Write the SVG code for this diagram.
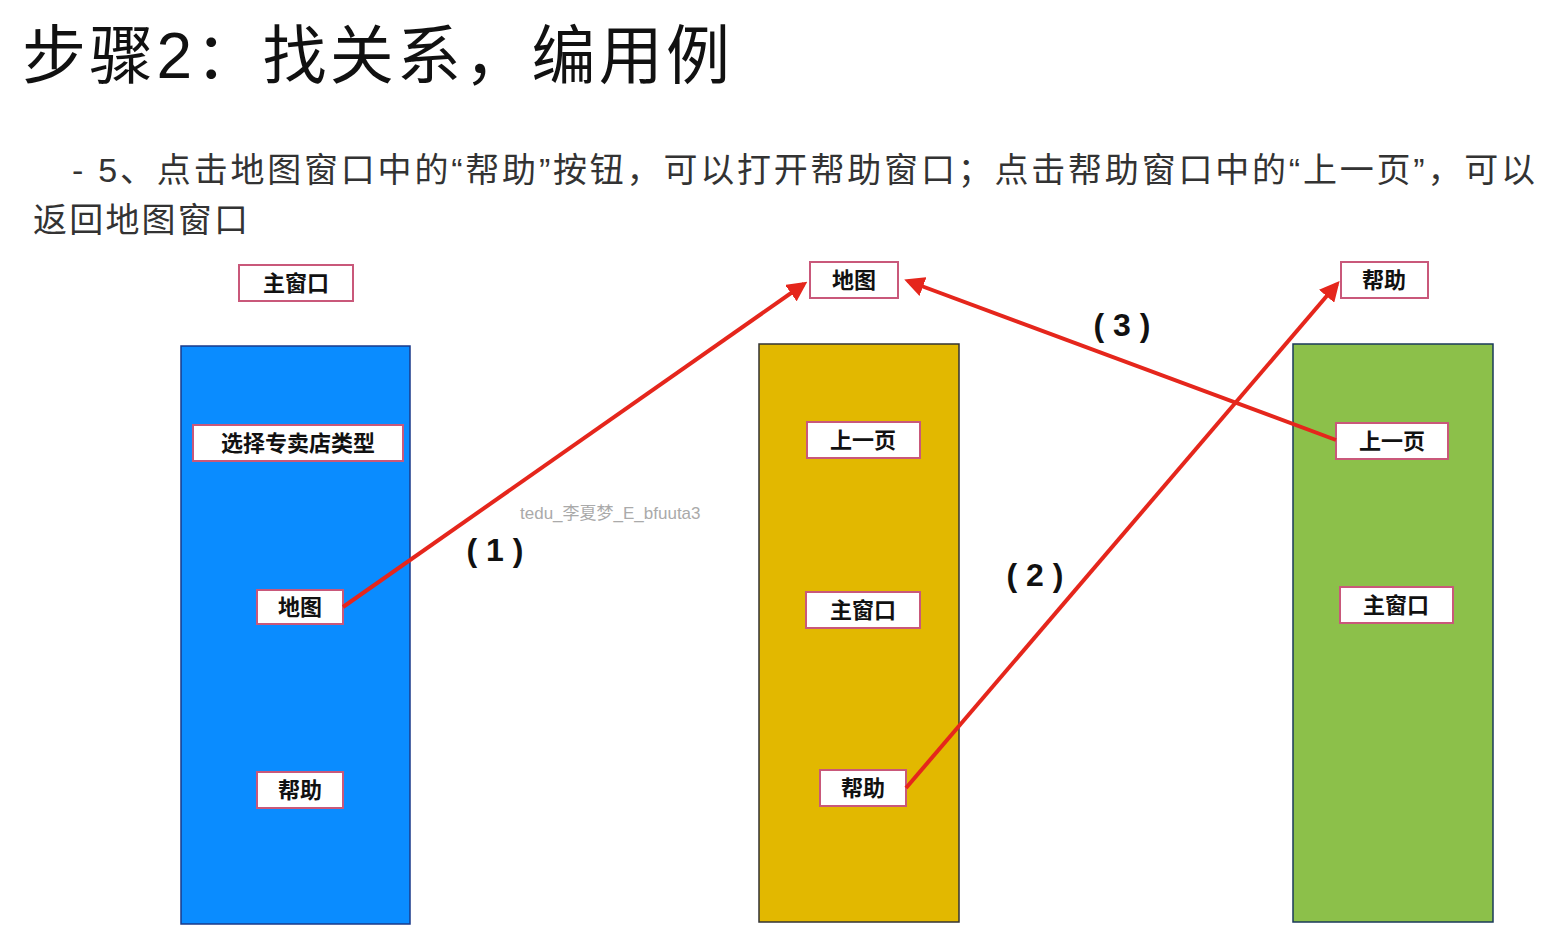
<svg xmlns="http://www.w3.org/2000/svg" width="1559" height="937" viewBox="0 0 1559 937">
<style>
.t{font-family:"Liberation Sans","Noto Sans CJK SC",sans-serif}
.box rect{fill:#fff;stroke:#c9587a;stroke-width:2}
.box text{font-family:"Noto Sans CJK SC",sans-serif;font-weight:bold;font-size:22px;text-anchor:middle;fill:#111}
.lbl{font-family:"Liberation Sans","Noto Sans CJK SC",sans-serif;font-weight:bold;font-size:32px;fill:#111;text-anchor:middle}
.ln{stroke:#e5261c;stroke-width:4;fill:none;marker-end:url(#ah)}
</style>
<defs><marker id="ah" viewBox="0 0 10 10" refX="8" refY="5" markerWidth="5" markerHeight="5" orient="auto"><path d="M0,0L10,5L0,10z" fill="#e5261c"/></marker></defs>
<rect width="1559" height="937" fill="#fff"/>
<text class="t" x="22" y="78" font-size="64" fill="#111" textLength="708" lengthAdjust="spacing">步骤2：找关系，编用例</text>
<text class="t" x="72" y="182" font-size="34" fill="#333" textLength="1463" lengthAdjust="spacing">- 5、点击地图窗口中的“帮助”按钮，可以打开帮助窗口；点击帮助窗口中的“上一页”，可以</text>
<text class="t" x="33" y="232" font-size="34" fill="#333" textLength="215" lengthAdjust="spacing">返回地图窗口</text>
<rect x="181" y="346" width="229" height="578" fill="#0a8cff" stroke="#1a3a8a" stroke-width="1.5"/>
<rect x="759" y="344" width="200" height="578" fill="#e2b800" stroke="#333" stroke-width="1.5"/>
<rect x="1293" y="344" width="200" height="578" fill="#8cc04a" stroke="#1a3a5a" stroke-width="1.5"/>
<g id="n-main" class="box"><rect x="239" y="265" width="114" height="36"/><text x="296" y="291">主窗口</text></g>
<g id="n-map" class="box"><rect x="810" y="262" width="88" height="36"/><text x="854" y="288">地图</text></g>
<g id="n-help" class="box"><rect x="1341" y="262" width="87" height="36"/><text x="1384" y="288">帮助</text></g>
<g id="b1" class="box"><rect x="193" y="425" width="210" height="36"/><text x="298" y="451">选择专卖店类型</text></g>
<g id="b2" class="box"><rect x="257" y="590" width="86" height="34"/><text x="300" y="615">地图</text></g>
<g id="b3" class="box"><rect x="257" y="772" width="86" height="36"/><text x="300" y="798">帮助</text></g>
<g id="y1" class="box"><rect x="807" y="422" width="113" height="36"/><text x="863" y="448">上一页</text></g>
<g id="y2" class="box"><rect x="806" y="592" width="114" height="36"/><text x="863" y="618">主窗口</text></g>
<g id="y3" class="box"><rect x="820" y="770" width="86" height="36"/><text x="863" y="796">帮助</text></g>
<g id="g1" class="box"><rect x="1336" y="423" width="112" height="36"/><text x="1392" y="449">上一页</text></g>
<g id="g2" class="box"><rect x="1340" y="587" width="113" height="36"/><text x="1396" y="613">主窗口</text></g>
<g id="connectors">
<line class="ln" x1="343" y1="607" x2="804" y2="284"/>
<line class="ln" x1="906" y1="788" x2="1337" y2="284"/>
<line class="ln" x1="1336" y1="440" x2="908" y2="281"/>
</g>
<text class="lbl" x="495" y="561">( 1 )</text>
<text class="lbl" x="1035" y="586">( 2 )</text>
<text class="lbl" x="1122" y="336">( 3 )</text>
<text class="t" x="520" y="519" font-size="17" fill="#aaa">tedu_李夏梦_E_bfuuta3</text>
</svg>
